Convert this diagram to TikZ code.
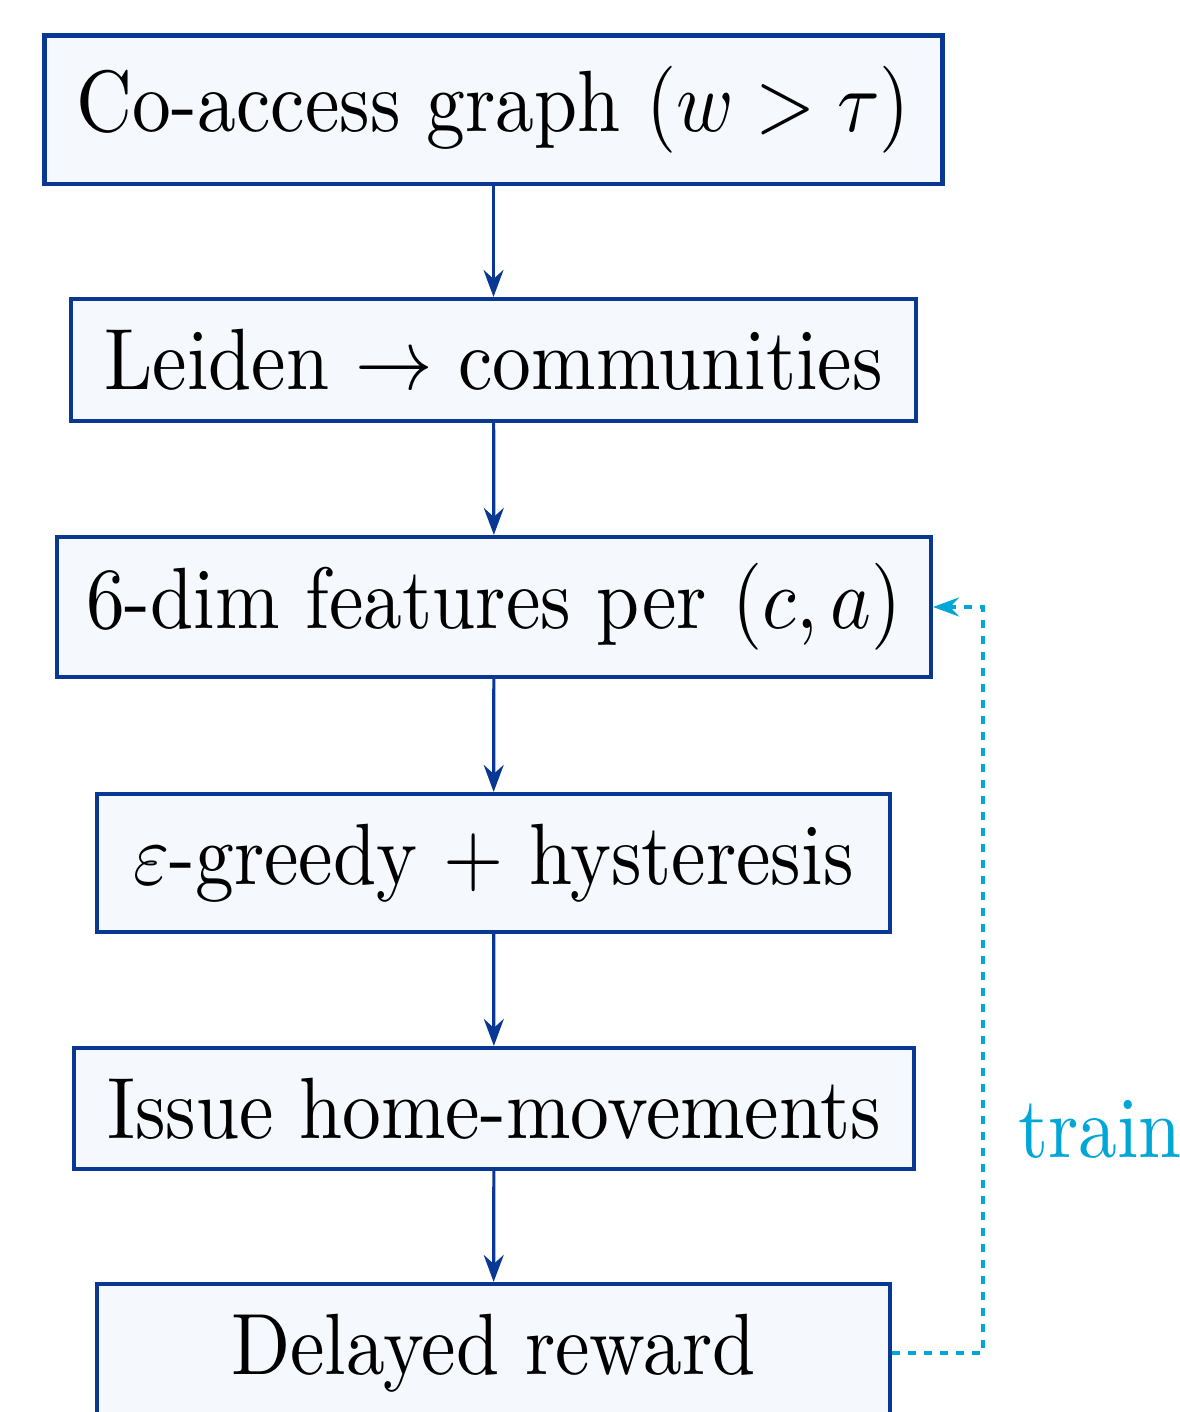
\documentclass[tikz,border=0pt]{standalone}
\usepackage{graphicx}
\usetikzlibrary{arrows.meta}
\definecolor{dblue}{RGB}{8,56,148}
\definecolor{lfill}{RGB}{245,249,253}
\definecolor{tcyan}{RGB}{0,166,214}
\newcommand{\vs}[1]{\scalebox{0.775}[0.87]{#1}}
\begin{document}
\begin{tikzpicture}[x=0.1pt,y=-0.1pt,
  box/.style={draw=dblue, fill=lfill, line width=0.42pt, rectangle, inner xsep=0pt, inner ysep=0pt,
    font=\fontsize{10}{12}\selectfont},
  arr/.style={draw=dblue, line width=0.32pt, -{Stealth[length=2.7pt,width=2.0pt,inset=0.9pt]}},
  fb/.style={draw=tcyan, line width=0.34pt, dash pattern=on 0.75pt off 0.85pt, -{Stealth[length=2.6pt,width=1.9pt,inset=0.9pt]}}]
\useasboundingbox (0,0) rectangle (1179,1412);
\node[box, minimum width=89.8pt, minimum height=14.85pt] (g) at (493.5,109.75) {\vs{Co-access graph $(w>\tau)$}};
\node[box, minimum width=84.5pt, minimum height=12.2pt] (l) at (493.5,360) {\vs{Leiden $\to$ communities}};
\node[box, minimum width=87.4pt, minimum height=14.0pt] (f) at (494,607) {\vs{6-dim features per $(c,a)$}};
\node[box, minimum width=79.3pt, minimum height=13.8pt] (e) at (493.5,863) {\vs{$\varepsilon$-greedy + hysteresis}};
\node[box, minimum width=84.0pt, minimum height=12.1pt] (i) at (494,1108.5) {\vs{Issue home-movements}};
\node[box, minimum width=79.3pt, minimum height=13.8pt] (r) at (493.5,1353) {\vs{Delayed reward}};
\draw[arr] (g) -- (l);
\draw[arr] (l) -- (f);
\draw[arr] (f) -- (e);
\draw[arr] (e) -- (i);
\draw[arr] (i) -- (r);
\coordinate (tc) at (983,1353);
\draw[fb] (r.east) -- (tc) |- (f.east);
\node[anchor=base west, inner sep=0pt, text=tcyan, font=\fontsize{10}{12}\selectfont] (lbl) at (1016,1157) {\vs{train}};
\end{tikzpicture}
\end{document}
